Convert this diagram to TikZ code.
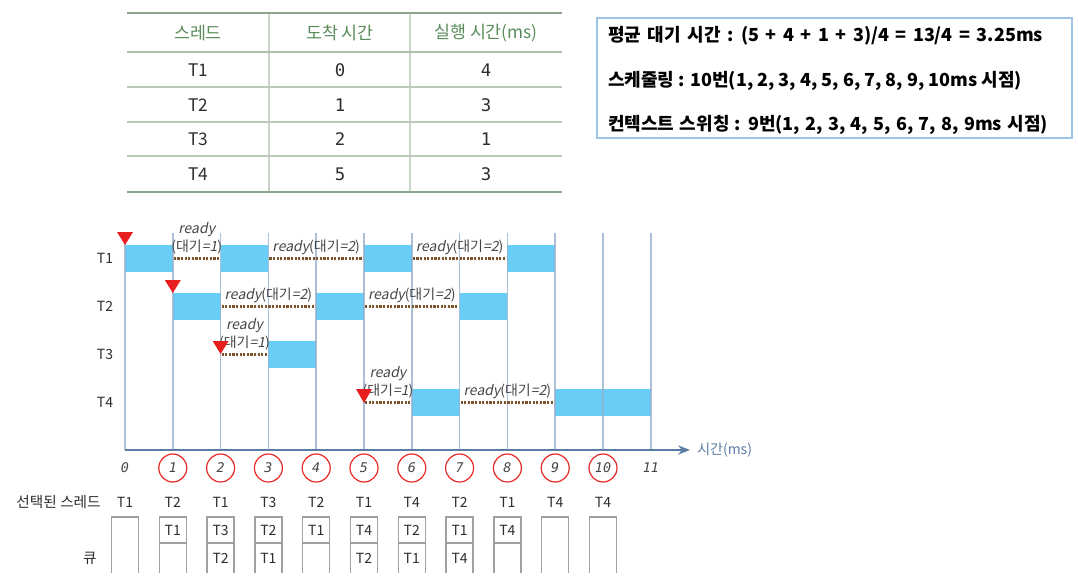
\documentclass[tikz,border=0pt]{standalone}
\usepackage{fontspec}
\setmainfont{Noto Sans CJK KR}
\newfontfamily\monofont{DejaVu Sans Mono}
\newfontfamily\slfont[FakeSlant=0.2]{Noto Sans CJK KR}
\usetikzlibrary{arrows.meta}
\definecolor{rulec}{RGB}{140,165,140}
\definecolor{headc}{RGB}{90,140,90}
\definecolor{sepc}{RGB}{200,214,200}
\definecolor{boxc}{RGB}{157,195,230}
\definecolor{barc}{RGB}{104,206,245}
\definecolor{vlinec}{RGB}{150,175,205}
\definecolor{axisc}{RGB}{90,125,165}
\definecolor{dotc}{RGB}{125,85,45}
\definecolor{trired}{RGB}{232,30,30}
\definecolor{circred}{RGB}{232,40,40}
\definecolor{txtc}{RGB}{45,45,45}
\definecolor{lblc}{RGB}{70,70,70}
\definecolor{qboxc}{RGB}{160,160,160}
\newcommand{\rd}{{\slfont ready}}
\begin{document}
\begin{tikzpicture}[x=0.75pt,y=-0.75pt,
  tcell/.style={inner sep=0pt,text=txtc,font=\fontsize{13}{15}\selectfont},
  thead/.style={inner sep=0pt,text=headc,font=\fontsize{13}{15}\selectfont},
  tnum/.style={inner sep=0pt,text=txtc,font=\monofont\fontsize{13}{15}\selectfont},
  infotext/.style={inner sep=0pt,anchor=west,text=black,font=\bfseries\fontsize{13.5}{16}\selectfont},
  rowlab/.style={inner sep=0pt,text=txtc,font=\fontsize{10.5}{12}\selectfont},
  bar/.style={fill=barc,draw=none},
  vline/.style={draw=vlinec,line width=1.1pt,opacity=0.8},
  waitdots/.style={draw=dotc,line width=2pt,dash pattern=on 1.6pt off 1.1pt},
  rlab/.style={inner sep=0pt,text=lblc,font=\fontsize{10.5}{12}\selectfont},
  tlab/.style={inner sep=0pt,text=lblc,font=\monofont\itshape\fontsize{10}{12}\selectfont},
  ring/.style={draw=circred,line width=0.9pt,circle,minimum size=21pt,inner sep=0pt},
  arrive/.style={fill=trired,draw=none},
  qbox/.style={draw=qboxc,line width=1.1pt},
  qtext/.style={inner sep=0pt,text=txtc,font=\fontsize{10.5}{12}\selectfont}
]
\useasboundingbox (0,0) rectangle (1078,585);

% ---------------- table ----------------
\draw[sepc,line width=1pt] (269,13) -- (269,192) (410,13) -- (410,192);
\draw[rulec,line width=2pt] (127,13) -- (562,13);
\draw[rulec!70,line width=1pt] (127,52) -- (562,52);
\foreach \yy in {87,122,156} \draw[rulec!60,line width=1pt] (127,\yy) -- (562,\yy);
\draw[rulec,line width=2pt] (127,192) -- (562,192);
\node[thead] (h1) at (198,33) {스레드};
\node[thead] (h2) at (340,33) {도착 시간};
\node[thead] (h3) at (486,33) {실행 시간(ms)};
\foreach \n/\yy/\a/\e in {1/70/0/4, 2/105/1/3, 3/139/2/1, 4/174/5/3}{
  \node[tcell] (rn\n) at (198,\yy) {T\n};
  \node[tnum] (ra\n) at (340,\yy) {\a};
  \node[tnum] (re\n) at (486,\yy) {\e};
}

% ---------------- info box ----------------
\draw[boxc,line width=1.2pt] (597,18) rectangle (1072,138);
\node[infotext] (i1) at (608,36) {\spaceskip=0.36em\relax 평균 대기 시간 : (5 + 4 + 1 + 3)/4 = 13/4 = 3.25ms};
\node[infotext] (i2) at (608,81) {스케줄링 : 10번(1, 2, 3, 4, 5, 6, 7, 8, 9, 10ms 시점)};
\node[infotext] (i3) at (608,125) {\spaceskip=0.3em\relax 컨텍스트 스위칭 : 9번(1, 2, 3, 4, 5, 6, 7, 8, 9ms 시점)};

% ---------------- gantt chart ----------------
\foreach \r/\a/\b in {0/0/1,0/2/3,0/5/6,0/8/9,1/1/2,1/4/5,1/7/8,2/3/4,3/6/7,3/9/11}
  \fill[bar] ({125+47.8*\a},{258.5+48*\r-13.5}) rectangle ({125+47.8*\b},{258.5+48*\r+13.5});
\foreach \t in {0,...,11}
  \draw[vline] ({125+47.8*\t},233) -- ({125+47.8*\t},450);
\foreach \r/\a/\b in {0/1/2,0/3/5,0/6/8,1/2/4,1/5/7,2/2/3,3/5/6,3/7/9}
  \draw[waitdots] ({125+47.8*\a+1},{258.5+48*\r}) -- ({125+47.8*\b-1},{258.5+48*\r});
% labels
\foreach \r/\a/\b in {0/3/5,0/6/8,1/2/4,1/5/7,3/7/9}
  \node[rlab] (w\r-\a) at ({125+47.8*(\a+\b)/2},{258.5+48*\r-11.5}) {\rd(대기{\slfont =2})};
\foreach \r/\a/\b in {0/1/2,2/2/3,3/5/6}{
  \node[rlab] (wa\r-\a) at ({125+47.8*(\a+\b)/2},{258.5+48*\r-28.5}) {\rd};
  \node[rlab] (wb\r-\a) at ({125+47.8*(\a+\b)/2},{258.5+48*\r-11.5}) {(대기{\slfont =1})};
}
% arrival triangles
\fill[arrive] (117,232) -- (133,232) -- (125,245) -- cycle;
\fill[arrive] ({125+47.8-8},280) -- ({125+47.8+8},280) -- ({125+47.8},293) -- cycle;
\fill[arrive] ({125+47.8*2-8},341) -- ({125+47.8*2+8},341) -- ({125+47.8*2},354) -- cycle;
\fill[arrive] ({125+47.8*5-8},389) -- ({125+47.8*5+8},389) -- ({125+47.8*5},403) -- cycle;
% row labels
\foreach \r in {1,...,4}
  \node[rowlab] (row\r) at (105,{258.5+48*(\r-1)}) {T\r};
% axis
\coordinate (ax0) at (125,450);
\coordinate (axend) at (690,450);
\draw[axisc,line width=1.1pt,-{Stealth[length=9pt,width=7pt]}] (ax0) -- (axend);
\node[inner sep=0pt,anchor=west,text=axisc,font=\fontsize{10.5}{12}\selectfont] (axlab) at (697,450) {시간(ms)};
\foreach \t in {0,...,11}
  \node[tlab] (t\t) at ({125+47.8*\t},468) {\t};
\foreach \t in {1,...,10}
  \node[ring] (c\t) at (t\t) {};

% ---------------- selected threads & queue ----------------
\node[inner sep=0pt,anchor=east,text=txtc,font=\fontsize{11}{13}\selectfont] (sel) at (101,502) {선택된 스레드};
\node[inner sep=0pt,anchor=east,text=txtc,font=\fontsize{11}{13}\selectfont] (que) at (97,558) {큐};
\foreach \t/\s in {0/T1,1/T2,2/T1,3/T3,4/T2,5/T1,6/T4,7/T2,8/T1,9/T4,10/T4}
  \node[qtext] (s\t) at ({125+47.8*\t},502) {\s};
\foreach \t in {0,...,10}
  \draw[qbox] ({125+47.8*\t-13.5},573) -- ({125+47.8*\t-13.5},517) -- ({125+47.8*\t+13.5},517) -- ({125+47.8*\t+13.5},573);
\foreach \t in {1,...,8}
  \draw[qbox] ({125+47.8*\t-13.5},543) -- ({125+47.8*\t+13.5},543);
\foreach \t/\s in {1/T1,2/T3,3/T2,4/T1,5/T4,6/T2,7/T1,8/T4}
  \node[qtext] (qa\t) at ({125+47.8*\t},530) {\s};
\foreach \t/\s in {2/T2,3/T1,5/T2,6/T1,7/T4}
  \node[qtext] (qb\t) at ({125+47.8*\t},558) {\s};
\end{tikzpicture}
\end{document}
